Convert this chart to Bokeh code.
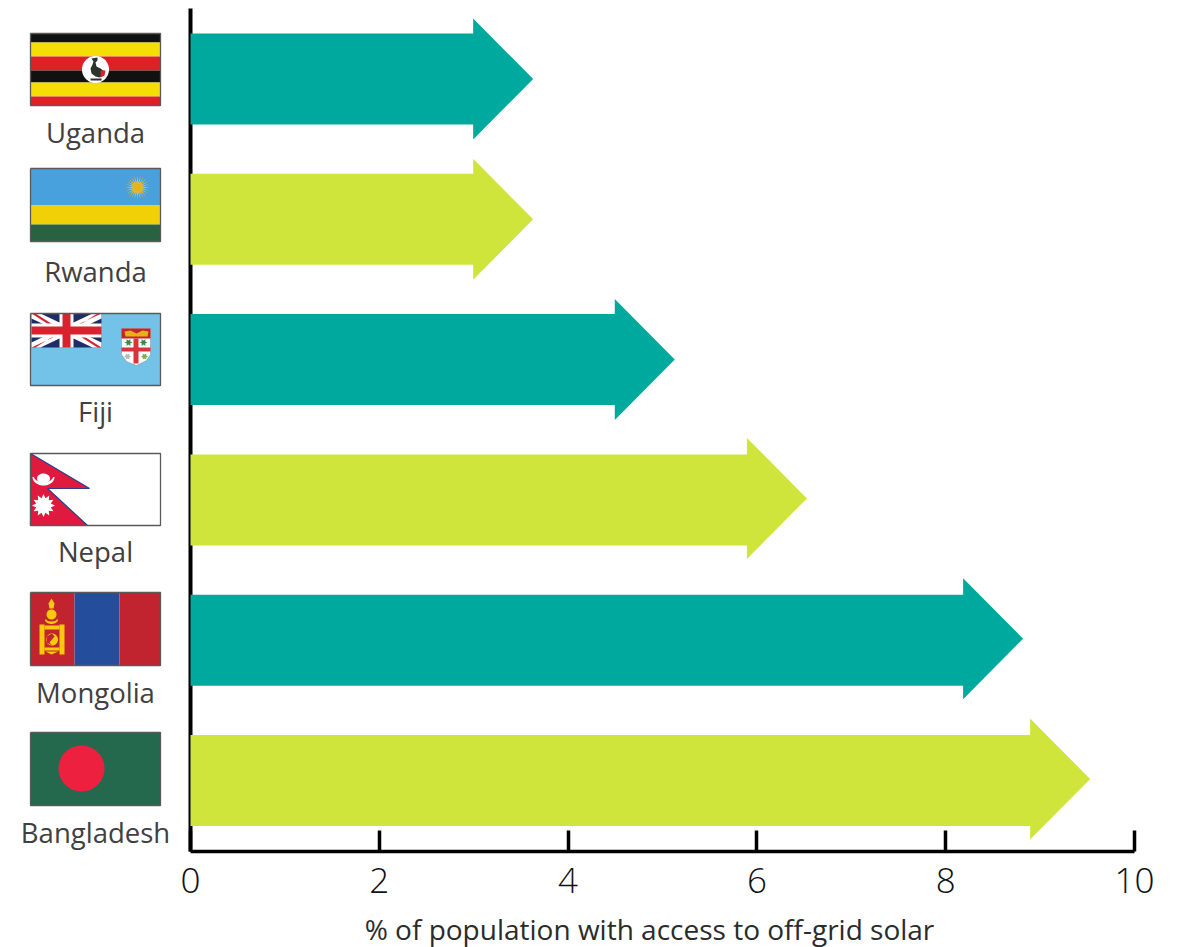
import numpy as np
from bokeh.plotting import figure
from bokeh.models import Range1d, FixedTicker
from bokeh.core.properties import value
from bokeh.embed import file_html
from bokeh.resources import INLINE

countries = ["Uganda", "Rwanda", "Fiji", "Nepal", "Mongolia", "Bangladesh"]
access_pct = [3.63, 3.63, 5.13, 6.53, 8.82, 9.53]
arrow_colors = ["#00a99d", "#d0e53c", "#00a99d", "#d0e53c", "#00a99d", "#d0e53c"]
x_ticks = [0, 2, 4, 6, 8, 10]
x_title = "% of population with access to off-grid solar"

W, H = 1179, 947
PAGE = 0
X0, XSCALE = 190.0, 94.4      # reference px of x=0, px per unit
Y0, YSCALE = 78.5, 140.3      # reference px of row 0, px per row

def fx(px):
    return (np.asarray(px, dtype=float) - X0) / XSCALE

def fy(py):
    return (np.asarray(py, dtype=float) - Y0) / YSCALE

p = figure(width=W, height=H, output_backend="svg", toolbar_location=None,
           x_range=Range1d(float(fx(PAGE)), float(fx(PAGE + W))),
           y_range=Range1d(float(fy(PAGE + H)), float(fy(PAGE))),
           min_border=0, outline_line_color=None, background_fill_color="white")
p.grid.visible = False

# axes
xa = p.xaxis[0]
xa.fixed_location = float(fy(851))
xa.bounds = (0, 10)
xa.ticker = FixedTicker(ticks=x_ticks)
xa.axis_line_color = "#000000"
xa.axis_line_width = 3.5
xa.major_tick_line_color = "#000000"
xa.major_tick_line_width = 3.5
xa.major_tick_in = 21
xa.major_tick_out = 0
xa.minor_tick_line_color = None
xa.major_label_text_font = "Open Sans Light"
xa.major_label_text_font_size = "35px"
xa.major_label_text_color = "#111111"
xa.major_label_standoff = 16
xa.level = "underlay"

ya = p.yaxis[0]
ya.fixed_location = 0
ya.bounds = (float(fy(851)), float(fy(8)))
ya.ticker = FixedTicker(ticks=[])
ya.axis_line_color = "#000000"
ya.axis_line_width = 4
ya.major_tick_line_color = None
ya.minor_tick_line_color = None
ya.major_label_text_color = None
ya.level = "underlay"

# arrows
HEAD_LEN = 60 / XSCALE
SHAFT = 45.5 / YSCALE
HEAD = 60.5 / YSCALE
xs_a, ys_a = [], []
for i, v in enumerate(access_pct):
    b = v - HEAD_LEN
    h = i - (1.5 / YSCALE if i >= 3 else 0.0)   # heads sit a little above the shaft centre in the lower rows
    xs_a.append([0, b, b, v, b, b, 0])
    ys_a.append([i - SHAFT, i - SHAFT, h - HEAD, h, h + HEAD, i + SHAFT, i + SHAFT])
p.patches(xs_a, ys_a, fill_color=arrow_colors, line_color=None)

# flag drawing helpers (reference pixel positions converted to data)
def poly(pts, color, line=None, lw=1):
    a = np.array(pts, dtype=float)
    p.patch(fx(a[:, 0]), fy(a[:, 1]), fill_color=color, line_color=line, line_width=lw)

def rect(x1, y1, x2, y2, color):
    poly([(x1, y1), (x2, y1), (x2, y2), (x1, y2)], color)

def disc(cx, cy, r, color):
    t = np.linspace(0, 2 * np.pi, 60)
    poly(np.c_[cx + r * np.cos(t), cy + r * np.sin(t)], color)

def star(cx, cy, r1, r2, n, color):
    t = np.linspace(0, 2 * np.pi, 2 * n, endpoint=False)
    r = np.where(np.arange(2 * n) % 2 == 0, r1, r2)
    poly(np.c_[cx + r * np.cos(t), cy + r * np.sin(t)], color)

def frame(x1, y1, x2, y2):
    a = np.array([x1, x2, x2, x1, x1], dtype=float)
    b = np.array([y1, y1, y2, y2, y1], dtype=float)
    p.line(fx(a), fy(b), line_color="#5a5a5a", line_width=1.3)

FL, FR = 30, 160

# Uganda
t, b = 33, 105
for (y1, y2, c) in [(33, 42, "#111111"), (42, 56, "#f5de05"), (56, 70, "#de2027"),
                    (70, 82, "#111111"), (82, 96, "#f5de05"), (96, 105, "#de2027")]:
    rect(FL, y1, FR, y2, c)
disc(95, 69, 13.5, "#ffffff")
poly([(91, 58), (97, 57), (97, 60), (95, 62), (96, 66), (100, 68), (104, 71), (103, 75), (99, 77),
      (95, 76), (91, 73), (90, 68), (92, 64), (93, 61)], "#2a332d")
poly([(100, 70), (105, 70), (104, 75), (100, 77)], "#de2027")
rect(90, 78, 101, 80, "#2a332d")
frame(FL, t, FR, b)

# Rwanda
t, b = 168, 241
rect(FL, 168, FR, 205, "#48a0dc")
rect(FL, 205, FR, 224, "#f2d007")
rect(FL, 224, FR, 241, "#2a6140")
star(137, 187, 12.5, 5, 24, "#d8bb45")
disc(137, 187, 4, "#e8b21a")
frame(FL, t, FR, b)

# Fiji
t, b = 313, 385
rect(FL, t, FR, b, "#73c2e8")
UL, UR, UT, UB = 31, 101, 313, 347
rect(UL, UT, UR, UB, "#1f2d66")
poly([(UL, UT), (UL + 9, UT), (UR, UB - 5), (UR, UB), (UR - 9, UB), (UL, UT + 5)], "#ffffff")
poly([(UR, UT), (UR - 9, UT), (UL, UB - 5), (UL, UB), (UL + 9, UB), (UR, UT + 5)], "#ffffff")
poly([(UL, UT), (UL + 4, UT), (UL + 26, UT + 14), (UL + 22, UT + 14)], "#d8232f")
poly([(UR, UB), (UR - 4, UB), (UR - 26, UB - 14), (UR - 22, UB - 14)], "#d8232f")
poly([(UR, UT), (UR - 4, UT), (UR - 26, UT + 14), (UR - 30, UT + 14)], "#d8232f")
poly([(UL, UB), (UL + 4, UB), (UL + 26, UB - 14), (UL + 30, UB - 14)], "#d8232f")
rect(59, UT, 73, UB, "#ffffff")
rect(UL, 323, UR, 337, "#ffffff")
rect(62, UT, 70, UB, "#d8232f")
rect(UL, 326, UR, 334, "#d8232f")
# shield
poly([(121, 328), (150, 328), (150, 354), (146, 360), (136, 365), (126, 361), (121, 354)], "#ffffff", "#8a8a8a", 0.5)
rect(121, 328, 150, 338, "#c8232c")
poly([(124, 331), (130, 330), (136, 333), (142, 330), (148, 331), (147, 336), (125, 336)], "#e3b21c")
rect(133, 338, 138, 363, "#d9333b")
rect(121, 347, 150, 351, "#d9333b")
star(128, 342, 4, 2, 6, "#3d8a4a")
star(143, 342, 4, 2, 6, "#3d8a4a")
star(144, 356, 3.5, 2, 6, "#7fb34a")
star(127, 356, 3.5, 2, 6, "#b8b8b8")
frame(FL, t, FR, b)

# Nepal
t, b = 453, 525
rect(FL, t, FR, b, "#ffffff")
poly([(30, 453), (89, 488), (47, 488), (87, 525), (30, 525)], "#e0193f", "#2a3f8f", 1.2)
th = np.linspace(0, np.pi, 30)
outer = np.c_[43 + 11 * np.cos(th), 476.5 + 8.5 * np.sin(th)]
inner = np.c_[43 + 9.5 * np.cos(th[::-1]), 476.5 + 5 * np.sin(th[::-1])]
poly(np.r_[outer, inner], "#ffffff")
tf = np.linspace(0, 2 * np.pi, 40)
poly(np.c_[43 + 6.5 * np.cos(tf), 478 + 5 * np.sin(tf)], "#ffffff")
star(43, 505, 11.5, 7.5, 12, "#ffffff")
frame(FL, t, FR, b)

# Mongolia
t, b = 592, 665
rect(FL, t, 74, b, "#c1232f")
rect(74, t, 119, b, "#244e9b")
rect(119, t, FR, b, "#c1232f")
Y = "#fbc90b"
poly([(51, 598), (54, 603), (53, 608), (49, 608), (48, 603)], Y)
disc(51, 614, 5, Y)
th3 = np.linspace(0, np.pi, 20)
poly(np.r_[np.c_[51 + 6.5 * np.cos(th3), 619 + 4.5 * np.sin(th3)],
           np.c_[51 + 5 * np.cos(th3[::-1]), 619 + 2 * np.sin(th3[::-1])]], Y)
rect(39, 624, 44, 654, Y)
rect(59, 624, 64, 654, Y)
rect(44, 625, 59, 629, Y)
rect(44, 647, 59, 650, Y)
poly([(45, 651), (58, 651), (51, 654)], Y)
disc(51.5, 639, 6, Y)
poly([(51.5, 633), (54, 636), (51.5, 639), (49, 642), (51.5, 645), (46, 642), (46, 636)], "#c1232f")
frame(FL, t, FR, b)

# Bangladesh
t, b = 732, 805
rect(FL, t, FR, b, "#24684d")
disc(81, 768, 23, "#ee2040")
frame(FL, t, FR, b)

# country names
label_y = [131.5, 270.5, 410.5, 550.5, 691.5, 831.5]
p.text(fx([95] * 6), fy(label_y), text=countries, text_color="#404040",
       text_font=value("Open Sans"), text_font_size="27.5px",
       text_align="center", text_baseline="middle")

# x title
p.text(fx([649]), fy([928]), text=[x_title], text_color="#2b2b2b",
       text_font=value("Open Sans"), text_font_size="28px",
       text_align="center", text_baseline="middle")

open("out.html", "w").write(file_html(p, INLINE))
